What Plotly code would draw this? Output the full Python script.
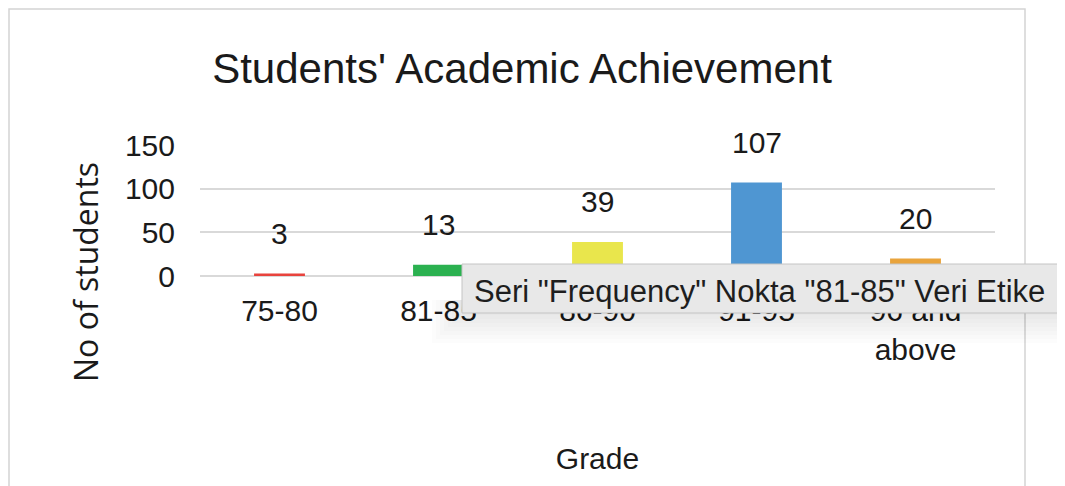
import plotly.graph_objects as go

categories = ["75-80", "81-85", "86-90", "91-95", "96 and<br>above"]
values = [3, 13, 39, 107, 20]
bar_colors = ["#e8433d", "#2bb150", "#e9e64c", "#4f96d2", "#e9a43c"]
y_ticks = [0, 50, 100, 150]
title_text = "Students' Academic Achievement"
x_title = "Grade"
y_title = "No of students"
tooltip_text = 'Seri "Frequency" Nokta "81-85" Veri Etike'

W, H = 1065, 486
OFF = 8  # page body offset
L, R, T, B = 200 - OFF, 70 + OFF, 145 - OFF, 210 + OFF
pw, ph = W - L - R, H - T - B

def px_x(px):
    return (px - OFF - L) / pw

def px_y(py):
    return (H - B - (py - OFF)) / ph

font_main = "Liberation Sans, Arial, sans-serif"

fig = go.Figure()
fig.add_trace(go.Bar(
    x=categories, y=values, marker=dict(color=bar_colors, line=dict(width=0)),
    width=0.32, hoverinfo="skip", showlegend=False,
))

for c, v in zip(categories, values):
    fig.add_annotation(x=c, y=v, text=str(v), showarrow=False, yshift=40,
                       font=dict(family=font_main, size=30, color="#1a1a1a"))

# chart border
fig.add_shape(type="rect", xref="paper", yref="paper",
              x0=px_x(9), x1=px_x(1025), y0=px_y(500), y1=px_y(9),
              line=dict(color="#d4d4d4", width=1.5), fillcolor="rgba(0,0,0,0)", layer="below")

# tooltip soft shadow
for i in range(8):
    fig.add_shape(type="rect", xref="paper", yref="paper",
                  x0=px_x(462 - 2 - i * 4), x1=px_x(1090), y0=px_y(313 + 2 + i * 4), y1=px_y(300),
                  line=dict(width=0), fillcolor="rgba(0,0,0,0.012)", layer="above")
# tooltip box
fig.add_shape(type="rect", xref="paper", yref="paper",
              x0=px_x(462), x1=px_x(1090), y0=px_y(313), y1=px_y(264),
              line=dict(color="#c4c4c4", width=1), fillcolor="#e8e8e8", layer="above")
fig.add_annotation(xref="paper", yref="paper", x=px_x(472), y=px_y(291),
                   xanchor="left", yanchor="middle", text=tooltip_text, showarrow=False,
                   font=dict(family=font_main, size=31, color="#1e1e1e"))

# y-axis title placed as in reference
fig.add_annotation(xref="paper", yref="paper", x=px_x(85), y=px_y(272),
                   xanchor="center", yanchor="middle", textangle=-90, text=y_title,
                   showarrow=False,
                   font=dict(family="Open Sans, sans-serif", size=32, color="#1a1a1a"))

fig.update_layout(
    width=W, height=H,
    margin=dict(l=L, r=R, t=T, b=B, autoexpand=False),
    paper_bgcolor="white", plot_bgcolor="white",
    title=dict(text=title_text, x=(522 - OFF) / W, xanchor="center", y=1 - (68 - OFF) / H, yanchor="middle",
               font=dict(family=font_main, size=42, color="#1a1a1a")),
    xaxis=dict(
        title=dict(text=x_title, font=dict(family=font_main, size=30, color="#1a1a1a"), standoff=82),
        tickfont=dict(family=font_main, size=30, color="#1a1a1a"),
        showgrid=False, showline=False, ticks="", ticklabelstandoff=14,
    ),
    yaxis=dict(
        tickfont=dict(family=font_main, size=30, color="#1a1a1a"),
        range=[0, 150], tickvals=y_ticks, showgrid=True, gridcolor="#d9d9d9", gridwidth=1.5,
        zeroline=True, zerolinecolor="#d9d9d9", zerolinewidth=1.5, showline=False, ticklabelstandoff=24,
    ),
)

fig.write_html("out.html")
